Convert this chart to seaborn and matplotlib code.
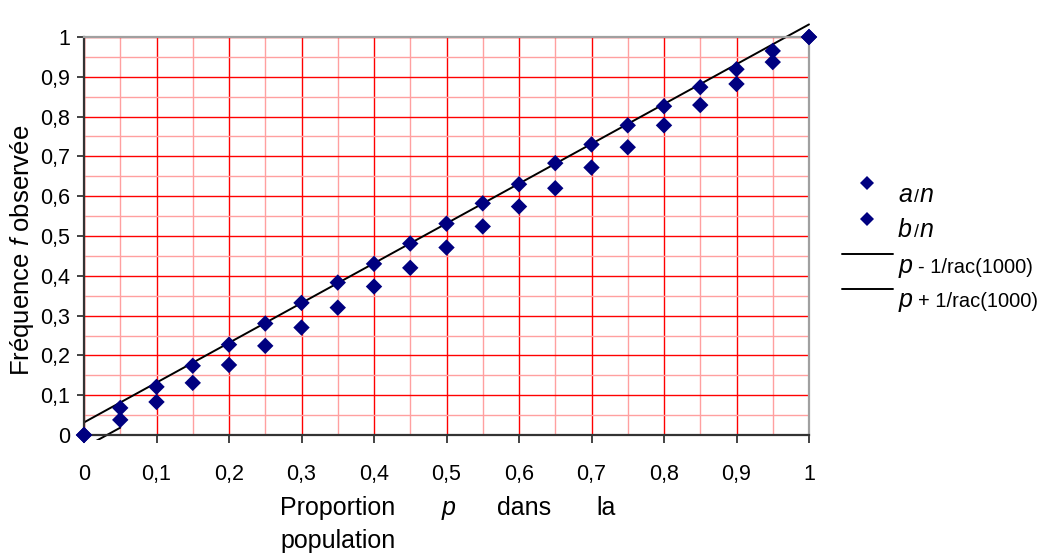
import numpy as np
import pandas as pd
import matplotlib
matplotlib.use('Agg')
import matplotlib.pyplot as plt
import seaborn as sns
from matplotlib.lines import Line2D
from matplotlib.patches import Rectangle

#------------------------------------------------------------------------------------------------------------------------------------------------------
# data

p_values = [0, 0.05, 0.1, 0.15, 0.2, 0.25, 0.3, 0.35, 0.4, 0.45, 0.5,
            0.55, 0.6, 0.65, 0.7, 0.75, 0.8, 0.85, 0.9, 0.95, 1]
a_over_n = [0, 0.068, 0.121, 0.174, 0.227, 0.280, 0.332, 0.383, 0.430, 0.481, 0.531,
            0.582, 0.630, 0.683, 0.730, 0.778, 0.826, 0.874, 0.919, 0.965, 1.0]
b_over_n = [0, 0.038, 0.083, 0.131, 0.176, 0.224, 0.270, 0.320, 0.373, 0.420, 0.471,
            0.524, 0.574, 0.620, 0.672, 0.723, 0.778, 0.829, 0.882, 0.937, 1.0]

n_sample = 1000
upper_p = [0, 1]        # p + 1/rac(1000) drawn over the whole range
lower_p = [0, 0.05]     # p - 1/rac(1000) only shows its first segment

tick_values = [0, 0.1, 0.2, 0.3, 0.4, 0.5, 0.6, 0.7, 0.8, 0.9, 1]
tick_labels = ['0', '0,1', '0,2', '0,3', '0,4', '0,5', '0,6', '0,7', '0,8', '0,9', '1']

#------------------------------------------------------------------------------------------------------------------------------------------------------

W, H = 1049, 556
NAVY = '#000080'


def fx(px):
    return px / W


def fy(py):
    return 1 - py / H


sns.set_theme(style='white')
plt.rcParams['font.family'] = ['Liberation Sans', 'DejaVu Sans']
plt.rcParams['text.color'] = 'black'
plt.rcParams['mathtext.fontset'] = 'custom'
plt.rcParams['mathtext.rm'] = 'Liberation Sans'
plt.rcParams['mathtext.it'] = 'Liberation Sans:italic'

fig = plt.figure(figsize=(W / 100, H / 100), dpi=100)
ax = fig.add_axes([fx(84), fy(435), fx(809) - fx(84), fy(37) - fy(435)])

# red graph-paper grid
ax.set_xlim(0, 1)
ax.set_ylim(0, 1)
ax.set_xticks(tick_values)
ax.set_yticks(tick_values)
ax.set_xticks(np.arange(0.05, 1, 0.1), minor=True)
ax.set_yticks(np.arange(0.05, 1, 0.1), minor=True)
ax.set_xticklabels(tick_labels)
ax.set_yticklabels(tick_labels)
ax.grid(which='minor', color='#ffa0a0', lw=1.0)
ax.grid(which='major', color='#ff0000', lw=1.0)
ax.set_axisbelow(True)
ax.tick_params(which='minor', length=0)
ax.tick_params(axis='y', which='major', left=True, length=5, width=1.2, color='#222222',
               direction='out', pad=5, labelsize=15.5, labelcolor='black')
ax.tick_params(axis='x', which='major', bottom=True, length=6, width=1.2, color='#222222',
               direction='out', pad=15, labelsize=15.5, labelcolor='black')

for side in ['left', 'bottom']:
    ax.spines[side].set_color('#333333')
    ax.spines[side].set_linewidth(1.6)
for side in ['top', 'right']:
    ax.spines[side].set_color('#a0a0a0')
    ax.spines[side].set_linewidth(1.6)

# lines p -/+ 1/rac(n)
half = 1 / np.sqrt(n_sample)
lines = pd.DataFrame({
    'p': upper_p + lower_p,
    'f': [v + half for v in upper_p] + [v - half for v in lower_p],
    'serie': ['p + 1/rac(1000)'] * len(upper_p) + ['p - 1/rac(1000)'] * len(lower_p),
})
sns.lineplot(data=lines, x='p', y='f', units='serie', estimator=None, sort=False,
             color='black', lw=1.4, ax=ax, legend=False)
clip_box = Rectangle((-0.05, -0.0125), 1.2, 1.2, transform=ax.transData)
for ln in ax.lines:
    ln.set_clip_path(clip_box)

# observed frequencies
points = pd.DataFrame({'p': p_values, 'a/n': a_over_n, 'b/n': b_over_n})
points = points.melt(id_vars='p', var_name='serie', value_name='f')
sns.scatterplot(data=points, x='p', y='f', hue='serie', palette={'a/n': NAVY, 'b/n': NAVY},
                marker='D', s=70, linewidth=0, legend=False, ax=ax, zorder=4, clip_on=False)

ax.set_xlabel('')
ax.set_ylabel('')

# axis titles
fig.text(fx(22), fy(250), 'Fréquence $f$ observée', rotation=90, ha='center', va='center',
         fontsize=18.5)
base1, base2 = 515, 548
fig.text(fx(280), fy(base1), 'Proportion', fontsize=18, va='baseline')
fig.text(fx(442), fy(base1), 'p', fontsize=18, style='italic', va='baseline')
fig.text(fx(497), fy(base1), 'dans', fontsize=18, va='baseline')
fig.text(fx(596), fy(base1), 'la', fontsize=18, va='baseline')
fig.text(fx(280), fy(base2), 'population', fontsize=18, va='baseline')

# title, almost entirely out of frame
fig.text(fx(566), fy(-6), 'p', fontsize=16, style='italic', weight='bold', va='baseline')

# hand-made legend
for py in [183, 219]:
    fig.add_artist(Line2D([fx(867)], [fy(py)], marker='D', markersize=7, color=NAVY,
                          markeredgewidth=0, transform=fig.transFigure))
for py in [254, 289]:
    fig.add_artist(Line2D([fx(842), fx(893)], [fy(py), fy(py)], color='black', lw=1.4,
                          transform=fig.transFigure))

for letter, base in [('a', 202), ('b', 237)]:
    fig.text(fx(898), fy(base), letter, fontsize=18, style='italic', va='baseline')
    fig.text(fx(914), fy(base), '/', fontsize=13, va='baseline')
    fig.text(fx(920), fy(base), 'n', fontsize=18, style='italic', va='baseline')

for sign, base in [('-', 273), ('+', 307)]:
    fig.text(fx(899), fy(base), 'p', fontsize=18, style='italic', va='baseline')
    fig.text(fx(918), fy(base), sign + ' 1/rac(1000)', fontsize=14.5, va='baseline')

fig.savefig('out.png', dpi=100)
